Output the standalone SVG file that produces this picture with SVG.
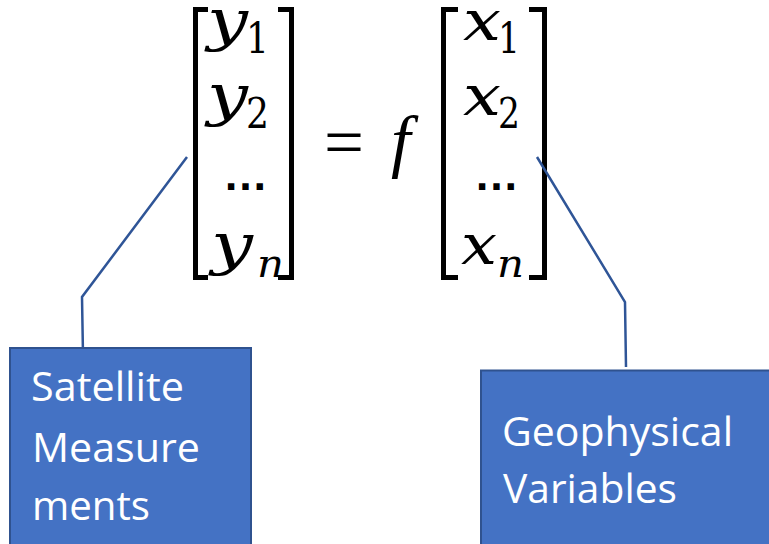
<svg xmlns="http://www.w3.org/2000/svg" width="769" height="544" viewBox="0 0 769 544">
<style>
.br{fill:none;stroke:#000;stroke-width:5;stroke-linejoin:miter;stroke-linecap:butt}
.v{font-family:"DejaVu Serif",serif;font-style:italic;font-size:56px;fill:#000}
.s{font-family:"DejaVu Serif",serif;font-size:42px;fill:#000}
.si{font-family:"DejaVu Serif",serif;font-style:italic;font-size:40px;fill:#000}
.d{font-family:"Liberation Sans",sans-serif;font-weight:bold;font-size:45px;fill:#000}
.box{fill:#4472C4;stroke:#2F528F;stroke-width:2}
.lbl{font-family:"Open Sans",sans-serif;font-size:40px;fill:#fff}
.con{fill:none;stroke:#2F5597;stroke-width:2.5;stroke-linejoin:miter}
</style>
<rect width="769" height="544" fill="#fff"/>
<g id="equation">
<path class="br" d="M208,9.5 H195.5 V277.5 H208"/>
<path class="br" d="M278,9.5 H291.5 V277.5 H278"/>
<path class="br" d="M458,9.5 H443.5 V277.5 H458"/>
<path class="br" d="M529,9.5 H544.5 V277.5 H529"/>
<text class="v" x="207" y="40" textLength="41" lengthAdjust="spacingAndGlyphs">y</text>
<text class="s" x="246" y="53" textLength="23" lengthAdjust="spacingAndGlyphs">1</text>
<text class="v" x="207" y="115" textLength="41" lengthAdjust="spacingAndGlyphs">y</text>
<text class="s" x="246" y="128" textLength="23" lengthAdjust="spacingAndGlyphs">2</text>
<text class="d" x="223" y="190">…</text>
<text class="v" x="211" y="264" textLength="42" lengthAdjust="spacingAndGlyphs">y</text>
<text class="si" x="257" y="277" textLength="27" lengthAdjust="spacingAndGlyphs">n</text>
<text x="324" y="166" font-family="Liberation Serif, serif" font-size="70px" textLength="40" lengthAdjust="spacingAndGlyphs">=</text>
<text x="391" y="164" font-family="Liberation Serif, serif" font-style="italic" font-size="70px">f</text>
<text class="v" x="463" y="40" textLength="38" lengthAdjust="spacingAndGlyphs">x</text>
<text class="s" x="498" y="53" textLength="22" lengthAdjust="spacingAndGlyphs">1</text>
<text class="v" x="463" y="115" textLength="38" lengthAdjust="spacingAndGlyphs">x</text>
<text class="s" x="498" y="128" textLength="22" lengthAdjust="spacingAndGlyphs">2</text>
<text class="d" x="474" y="190">…</text>
<text class="v" x="461" y="264" textLength="36" lengthAdjust="spacingAndGlyphs">x</text>
<text class="si" x="497" y="277" textLength="27" lengthAdjust="spacingAndGlyphs">n</text>
</g>
<g id="connectors">
<polyline class="con" points="187,157 82,297 83,355"/>
<polyline class="con" points="537,157 625,302 626,367"/>
</g>
<g id="satellite">
<rect class="box" x="10" y="348" width="241" height="200"/>
<text class="lbl" x="31" y="401" textLength="153" lengthAdjust="spacingAndGlyphs">Satellite</text>
<text class="lbl" x="32" y="462" textLength="168" lengthAdjust="spacingAndGlyphs">Measure</text>
<text class="lbl" x="32" y="520" textLength="118" lengthAdjust="spacingAndGlyphs">ments</text>
</g>
<g id="geophysical">
<rect class="box" x="481" y="370.5" width="300" height="180"/>
<text class="lbl" x="502" y="446" textLength="231" lengthAdjust="spacingAndGlyphs">Geophysical</text>
<text class="lbl" x="503" y="503" textLength="174" lengthAdjust="spacingAndGlyphs">Variables</text>
</g>
</svg>
